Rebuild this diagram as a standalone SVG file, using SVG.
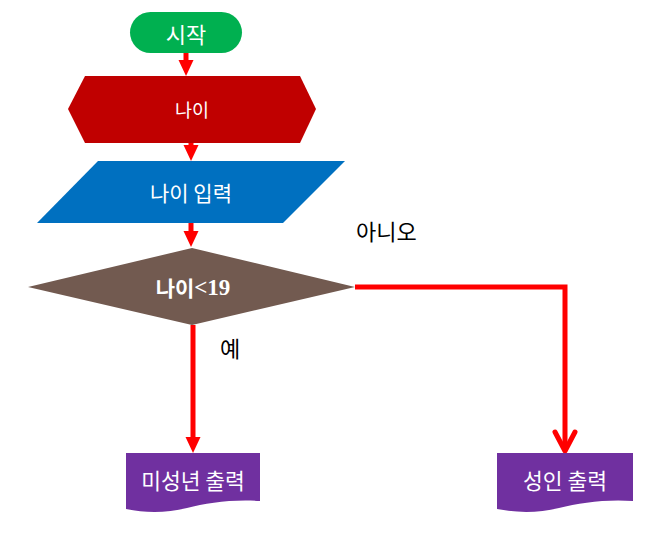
<svg xmlns="http://www.w3.org/2000/svg" width="652" height="545" viewBox="0 0 652 545">
<style>
.lbl{font-family:"Noto Sans CJK KR","Noto Sans",sans-serif;fill:#fff;text-anchor:middle;dominant-baseline:central}
.out{font-family:"Noto Sans CJK KR","Noto Sans",sans-serif;fill:#000;font-size:22px}
.c{fill:none;stroke:#ff0000;stroke-width:5}
</style>
<defs>
<marker id="tri" markerUnits="userSpaceOnUse" markerWidth="20" markerHeight="20" refX="6" refY="7.5" orient="auto" overflow="visible">
<path d="M0,0 L16,7.5 L0,15 Z" fill="#ff0000"/>
</marker>
<marker id="open" markerUnits="userSpaceOnUse" markerWidth="24" markerHeight="24" refX="19" refY="10" orient="auto" overflow="visible">
<path d="M0,0 L19,10 L0,20" fill="none" stroke="#ff0000" stroke-width="5" stroke-linecap="round" stroke-linejoin="round"/>
</marker>
</defs>
<g id="connectors">
<line class="c" x1="186" y1="53" x2="186" y2="66" marker-end="url(#tri)"/>
<line class="c" x1="191" y1="143" x2="191" y2="151" marker-end="url(#tri)"/>
<line class="c" x1="191" y1="223" x2="191" y2="237" marker-end="url(#tri)"/>
<line class="c" x1="193" y1="325" x2="193" y2="443" marker-end="url(#tri)"/>
<polyline class="c" points="355,287 565,287 565,451" marker-end="url(#open)"/>
<text class="out" x="220" y="357">예</text>
<text class="out" x="356" y="240">아니오</text>
</g>
<g id="start">
<rect x="130" y="12" width="112" height="41" rx="20.5" fill="#00b050"/>
<text class="lbl" x="186" y="33" font-size="22">시작</text>
</g>
<g id="age">
<polygon points="68,109 85,76 300,76 316,109 300,143 85,143" fill="#c00000"/>
<text class="lbl" x="192" y="109" font-size="18.5">나이</text>
</g>
<g id="input">
<polygon points="98,161 345,161 283,223 37,223" fill="#0070c0"/>
<text class="lbl" x="191" y="192" font-size="21">나이 입력</text>
</g>
<g id="decision">
<polygon points="192,248 355,287 192,325 28,287" fill="#725a50"/>
<text class="lbl" x="193" y="287" font-size="21" font-weight="bold"><tspan>나이</tspan><tspan font-family="'Liberation Serif',serif" font-size="23">&lt;19</tspan></text>
</g>
<g id="minor">
<path d="M126,453 H260 V501 C232,499 207,503 187,508 C166,513 146,513 126,509 Z" fill="#7030a0"/>
<text class="lbl" x="193" y="479" font-size="21.5">미성년 출력</text>
</g>
<g id="adult">
<path d="M497,453 H633 V501 C605,499 580,503 559,508 C538,513 518,513 497,509 Z" fill="#7030a0"/>
<text class="lbl" x="565" y="479" font-size="21.5">성인 출력</text>
</g>
</svg>
